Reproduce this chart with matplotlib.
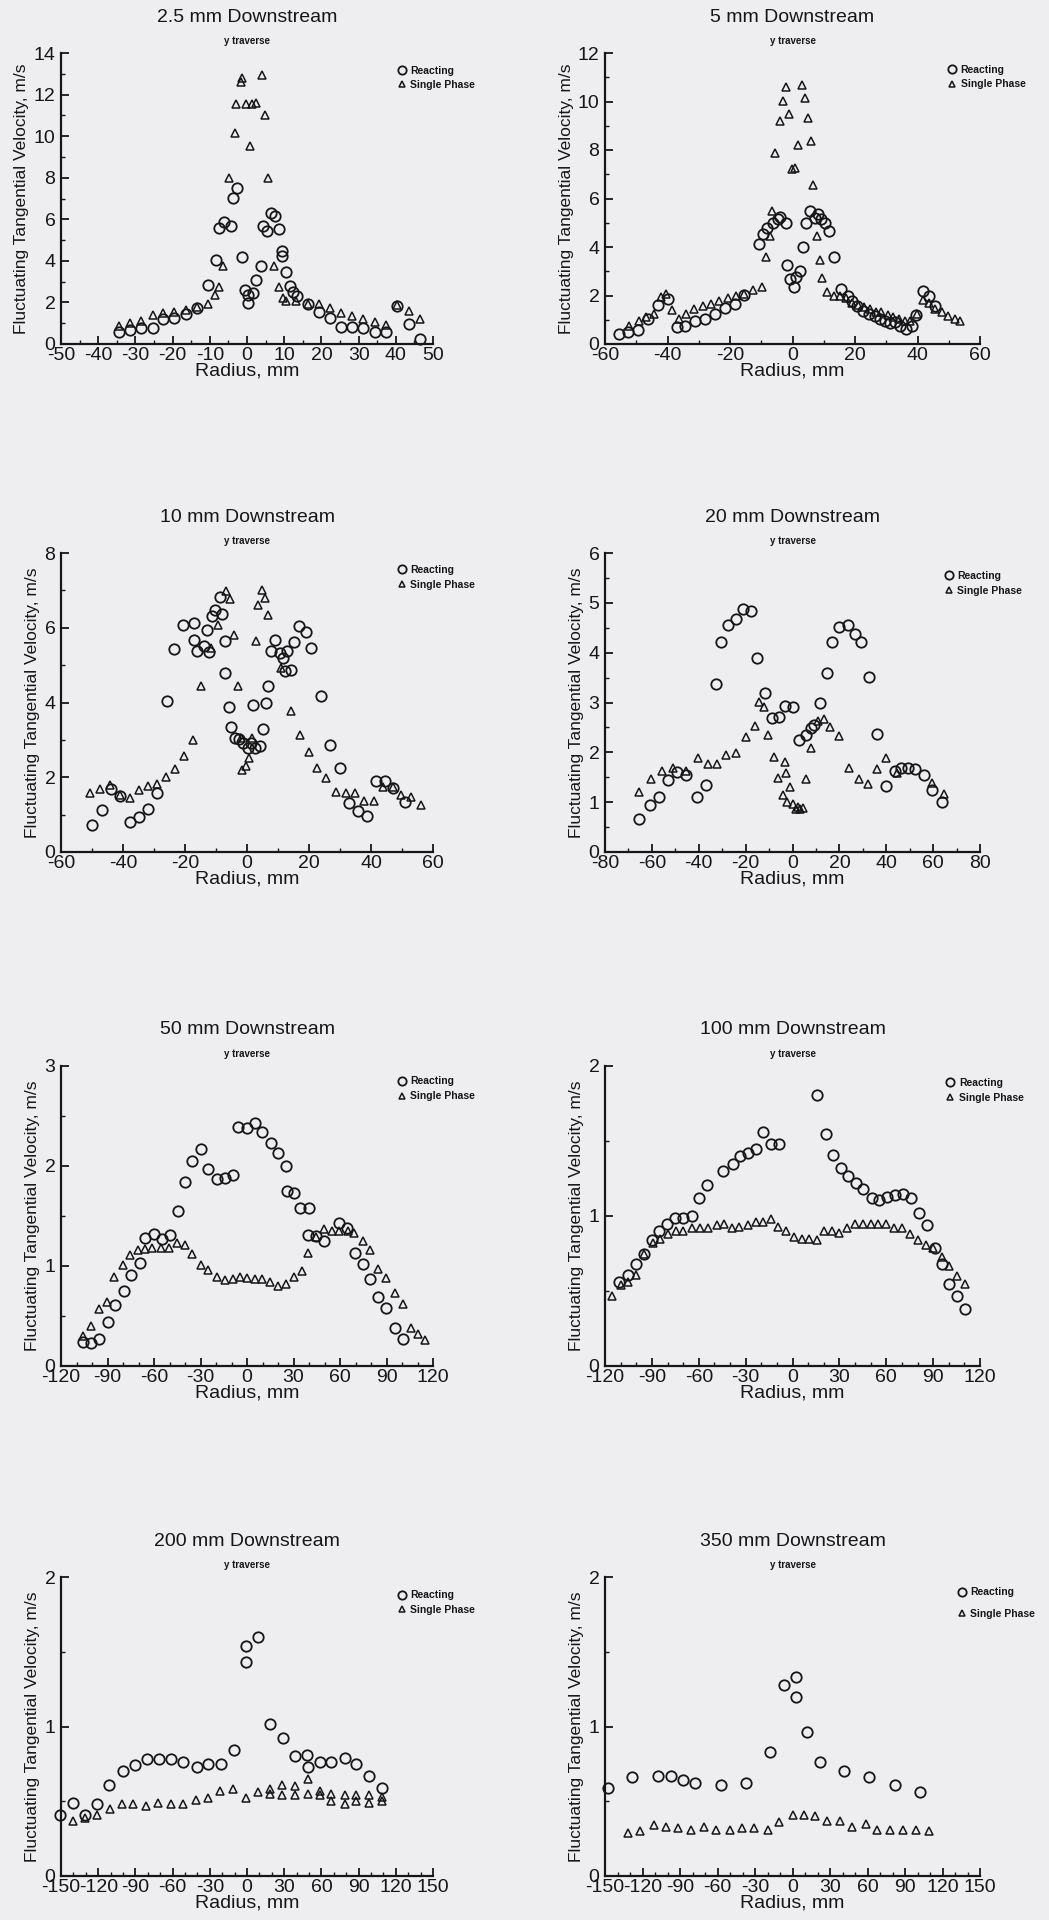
import matplotlib
matplotlib.use("Agg")
import matplotlib.pyplot as plt
from matplotlib.ticker import MultipleLocator

plt.rcParams['font.family'] = ['Liberation Sans', 'DejaVu Sans']
plt.rcParams['axes.unicode_minus'] = False

# ---------------- data ----------------
titles = ["2.5 mm Downstream", "5 mm Downstream", "10 mm Downstream", "20 mm Downstream",
          "50 mm Downstream", "100 mm Downstream", "200 mm Downstream", "350 mm Downstream"]

# 2.5 mm
r1_x = [-34.5, -31.4, -28.4, -25.3, -22.6, -19.5, -16.3, -13.5, -10.5, -8.3, -7.4, -6.3, -4.2, -3.8, -2.6,
        -1.3, -0.6, 0.3, 0.4, 1.6, 2.5, 3.7, 4.3, 5.5, 6.5, 7.4, 8.6, 9.5, 9.5, 10.4, 11.5, 12.4, 13.5,
        16.4, 19.3, 22.2, 25.2, 28.3, 31.2, 34.3, 37.3, 40.2, 43.6, 46.6]
r1_y = [0.56, 0.68, 0.76, 0.76, 1.19, 1.24, 1.45, 1.72, 2.85, 4.06, 5.59, 5.86, 5.67, 7.04, 7.52,
        4.17, 2.61, 2.37, 1.97, 2.45, 3.09, 3.77, 5.70, 5.43, 6.32, 6.15, 5.54, 4.46, 4.22, 3.45, 2.80, 2.48, 2.29,
        1.93, 1.56, 1.24, 0.80, 0.80, 0.76, 0.56, 0.56, 1.84, 0.97, 0.23]
s1_x = [-34.5, -31.4, -28.4, -25.3, -22.6, -19.5, -16.3, -13.5, -10.5, -8.7, -7.4, -6.5, -4.8, -3.3, -2.9,
        -1.5, -1.3, -0.4, 0.7, 1.4, 2.5, 3.9, 4.8, 5.7, 7.2, 8.6, 9.7, 10.6, 13.3, 16.4, 19.3, 22.2, 25.2,
        28.3, 31.2, 34.3, 37.3, 40.2, 43.6, 46.6]
s1_y = [0.87, 1.00, 1.13, 1.40, 1.48, 1.56, 1.64, 1.77, 1.93, 2.37, 2.74, 3.74, 8.00, 10.15, 11.55,
        12.6, 12.8, 11.55, 9.54, 11.55, 11.6, 12.92, 11.0, 7.97, 3.74, 2.74, 2.21, 2.05, 2.05, 1.93, 1.93, 1.72, 1.51,
        1.35, 1.19, 1.08, 0.92, 1.88, 1.61, 1.19]

# 5 mm
r2_x = [-55.5, -52.5, -49.6, -46.1, -42.9, -39.7, -37.1, -34.3, -31.2, -28.0, -24.7, -21.5, -18.4, -15.4,
        -10.8, -9.5, -8.2, -6.3, -4.7, -3.9, -2.2, -1.8, -0.7, 0.4, 1.2, 2.5, 3.5, 4.4, 5.5, 7.1, 8.1, 9.2,
        10.3, 11.7, 13.3, 15.6, 17.8, 19.1, 20.6, 22.6, 24.5, 26.3, 27.9, 29.5, 31.1, 32.7, 34.3, 36.3,
        38.1, 39.5, 41.8, 43.7, 45.6]
r2_y = [0.41, 0.51, 0.58, 1.03, 1.62, 1.85, 0.69, 0.75, 0.93, 1.03, 1.23, 1.48, 1.65, 2.03,
        4.12, 4.53, 4.80, 4.97, 5.14, 5.24, 4.97, 3.26, 2.67, 2.36, 2.77, 2.99, 3.98, 4.97, 5.49, 5.21, 5.35, 5.14,
        4.97, 4.66, 3.59, 2.26, 1.99, 1.78, 1.58, 1.37, 1.23, 1.17, 1.03, 0.93, 0.85, 0.89, 0.75, 0.62,
        0.75, 1.21, 2.19, 1.99, 1.58]
s2_x = [-52.3, -49.1, -47.0, -44.3, -42.1, -40.5, -38.6, -36.3, -34.1, -31.4, -28.8, -26.1, -23.4, -20.7,
        -18.1, -15.4, -12.7, -9.7, -8.4, -7.2, -6.5, -5.5, -3.9, -2.9, -2.2, -1.0, -0.2, 0.9, 1.9, 3.1, 4.1,
        5.0, 6.0, 6.7, 7.8, 8.7, 9.5, 11.1, 13.2, 15.1, 17.2, 19.1, 21.0, 22.8, 24.7, 26.6, 28.4, 30.4,
        32.2, 34.1, 35.9, 37.5, 39.7, 41.8, 43.7, 45.6, 47.7, 49.8, 52.0, 53.6]
s2_y = [0.75, 0.93, 1.10, 1.23, 1.95, 2.06, 1.40, 1.03, 1.23, 1.44, 1.58, 1.65, 1.78, 1.89,
        1.99, 2.08, 2.22, 2.33, 3.57, 4.46, 5.49, 7.89, 9.19, 10.04, 10.59, 9.47, 7.20, 7.27, 8.20, 10.67, 10.15,
        9.33, 8.37, 6.54, 4.46, 3.46, 2.74, 2.13, 1.99, 1.99, 1.89, 1.71, 1.62, 1.51, 1.44, 1.34, 1.30, 1.21,
        1.12, 1.03, 0.96, 0.93, 1.23, 1.81, 1.71, 1.44, 1.30, 1.17, 1.03, 0.96]

# 10 mm
r3_x = [-50.0, -46.8, -43.8, -41.1, -37.9, -35.0, -32.0, -29.0, -25.9, -23.4, -20.5, -17.1, -17.1, -16.0,
        -13.9, -12.8, -12.1, -11.3, -10.2, -8.0, -8.8, -7.2, -7.0, -5.9, -5.3, -4.0, -2.7, -1.3, 0.3, 1.2,
        2.0, 2.5, 4.1, 5.2, 6.0, 6.8, 7.9, 9.1, 10.5, 11.6, 12.4, 13.0, 14.1, 15.2, 16.8, 18.9, 20.6,
        23.8, 26.7, 29.9, 32.8, 35.8, 38.8, 41.5, 44.4, 47.1, 50.9]
r3_y = [0.73, 1.13, 1.69, 1.51, 0.80, 0.93, 1.16, 1.58, 4.03, 5.44, 6.08, 6.13, 5.68, 5.37,
        5.50, 5.95, 5.35, 6.31, 6.47, 6.38, 6.82, 5.64, 4.79, 3.88, 3.35, 3.05, 3.02, 2.92, 2.78, 2.92,
        3.92, 2.78, 2.83, 3.29, 3.99, 4.45, 5.37, 5.66, 5.33, 5.19, 4.85, 5.37, 4.87, 5.61, 6.04, 5.88, 5.46,
        4.18, 2.87, 2.25, 1.31, 1.09, 0.95, 1.89, 1.89, 1.71, 1.33]
s3_x = [-50.5, -47.3, -44.3, -41.1, -37.9, -35.0, -32.0, -29.0, -26.0, -23.1, -20.3, -17.4, -14.7, -11.5,
        -9.4, -6.7, -5.6, -4.3, -2.9, -2.0, -1.5, -0.4, 0.5, 1.6, 3.0, 3.6, 4.8, 5.9, 6.8, 11.1, 14.1, 17.0,
        19.9, 22.7, 25.6, 28.6, 31.8, 34.8, 37.8, 40.9, 43.9, 47.1, 49.8, 52.9, 56.1]
s3_y = [1.58, 1.69, 1.80, 1.53, 1.45, 1.67, 1.76, 1.83, 2.02, 2.22, 2.56, 2.99, 4.43, 5.46,
        6.08, 6.99, 6.77, 5.80, 4.43, 3.05, 2.20, 2.31, 2.52, 3.05, 5.64, 6.62, 7.02, 6.80, 6.35, 4.92, 3.76, 3.14,
        2.67, 2.25, 1.98, 1.60, 1.58, 1.58, 1.36, 1.36, 1.73, 1.73, 1.53, 1.47, 1.27]

# 20 mm
r4_x = [-65.5, -60.9, -57.0, -53.0, -49.1, -45.3, -40.9, -36.8, -32.8, -30.3, -27.4, -24.3, -21.0, -17.9,
        -15.1, -11.8, -8.7, -5.8, -3.0, 0.3, 2.7, 5.8, 8.1, 9.1, 11.6, 14.8, 16.9, 20.0, 23.7, 26.6, 29.4,
        32.8, 36.1, 39.9, 43.6, 46.4, 49.3, 52.4, 55.9, 59.5, 63.8]
r4_y = [0.67, 0.94, 1.11, 1.44, 1.61, 1.55, 1.11, 1.35, 3.38, 4.21, 4.56, 4.68, 4.87, 4.84,
        3.90, 3.20, 2.69, 2.71, 2.92, 2.90, 2.25, 2.35, 2.49, 2.55, 2.98, 3.59, 4.21, 4.52, 4.56, 4.37, 4.21,
        3.52, 2.36, 1.33, 1.62, 1.68, 1.68, 1.66, 1.54, 1.24, 1.01]
s4_x = [-65.5, -60.2, -55.8, -50.9, -45.6, -40.2, -36.1, -32.4, -28.3, -24.0, -19.7, -15.8, -14.1, -12.2,
        -10.4, -8.0, -6.1, -4.1, -3.3, -2.7, -2.3, -0.9, 0.1, 1.3, 2.4, 3.4, 4.4, 5.8, 8.1, 10.9, 13.4, 15.9,
        20.0, 24.0, 28.3, 32.2, 36.1, 39.9, 44.6, 59.5, 64.5]
s4_y = [1.21, 1.46, 1.62, 1.68, 1.62, 1.89, 1.76, 1.76, 1.94, 1.98, 2.31, 2.53, 3.02, 2.90,
        2.35, 1.91, 1.49, 1.14, 1.81, 1.58, 1.01, 1.31, 0.97, 0.87, 0.90, 0.87, 0.88, 1.46, 2.09, 2.63, 2.67, 2.51,
        2.33, 1.69, 1.47, 1.37, 1.66, 1.89, 1.58, 1.39, 1.17]

# 50 mm
r5_x = [-105.5, -100.8, -95.2, -90.0, -85.0, -79.6, -74.7, -69.3, -65.6, -59.8, -54.8, -49.9, -44.7, -39.7,
        -35.4, -30.0, -25.3, -19.6, -14.5, -9.1, -5.6, -0.2, 5.0, 9.9, 15.3, 20.1, 25.0, 25.7, 30.0, 34.3,
        40.1, 39.5, 44.5, 49.9, 59.6, 64.5, 69.7, 74.7, 79.6, 84.4, 89.8, 95.2, 100.6]
r5_y = [0.24, 0.23, 0.27, 0.44, 0.61, 0.75, 0.91, 1.03, 1.28, 1.32, 1.27, 1.31, 1.55, 1.84,
        2.05, 2.17, 1.97, 1.87, 1.88, 1.91, 2.39, 2.38, 2.43, 2.34, 2.23, 2.13, 2.00, 1.75, 1.73, 1.58,
        1.58, 1.31, 1.30, 1.25, 1.43, 1.38, 1.13, 1.02, 0.87, 0.69, 0.58, 0.38, 0.27]
s5_x = [-105.5, -100.8, -95.2, -90.4, -85.7, -80.1, -75.3, -70.4, -65.6, -61.3, -55.5, -50.5, -45.1, -39.7,
        -35.4, -30.0, -25.3, -19.6, -14.5, -9.1, -4.5, 0.2, 5.0, 9.9, 14.9, 20.1, 25.0, 30.0, 35.4, 39.5,
        44.5, 49.4, 54.6, 59.6, 65.0, 69.3, 74.7, 79.6, 84.4, 89.8, 95.2, 100.6, 105.5, 110.3, 115.0]
s5_y = [0.30, 0.40, 0.57, 0.64, 0.89, 1.01, 1.11, 1.16, 1.17, 1.18, 1.18, 1.18, 1.23, 1.21,
        1.12, 1.01, 0.96, 0.89, 0.86, 0.87, 0.89, 0.88, 0.87, 0.87, 0.84, 0.80, 0.82, 0.89, 0.95, 1.13,
        1.29, 1.37, 1.35, 1.35, 1.35, 1.33, 1.25, 1.16, 0.97, 0.88, 0.73, 0.62, 0.38, 0.32, 0.26]

# 100 mm
r6_x = [-110.8, -105.1, -100.4, -94.8, -90.1, -85.2, -80.5, -75.2, -69.9, -64.5, -59.6, -54.5, -44.3, -38.3,
        -33.6, -28.3, -23.4, -19.1, -14.0, -8.4, 15.9, 21.4, 25.7, 30.8, 35.7, 40.6, 45.3, 50.7, 55.6, 60.7,
        65.6, 70.5, 75.6, 81.2, 85.9, 91.2, 95.5, 100.4, 105.5, 110.4]
r6_y = [0.56, 0.61, 0.68, 0.75, 0.84, 0.90, 0.95, 0.99, 0.99, 1.00, 1.12, 1.21, 1.30, 1.35,
        1.40, 1.42, 1.45, 1.56, 1.48, 1.48, 1.81, 1.55, 1.41, 1.32, 1.27, 1.22, 1.18, 1.12, 1.11, 1.13,
        1.14, 1.15, 1.12, 1.02, 0.94, 0.79, 0.68, 0.55, 0.47, 0.38]
s6_x = [-115.3, -110.0, -105.1, -100.4, -95.0, -89.5, -84.8, -79.9, -74.6, -69.9, -64.5, -59.2, -53.9, -48.5,
        -43.8, -38.9, -34.0, -28.7, -23.6, -18.7, -13.8, -9.1, -4.2, 1.0, 5.9, 10.8, 15.5, 20.1, 25.5, 30.0,
        35.1, 40.0, 45.3, 50.0, 54.9, 59.8, 65.2, 69.9, 75.2, 80.5, 85.4, 90.1, 95.5, 100.4, 105.5, 110.4]
s6_y = [0.47, 0.54, 0.56, 0.61, 0.75, 0.82, 0.85, 0.88, 0.90, 0.90, 0.92, 0.92, 0.92, 0.94,
        0.95, 0.92, 0.93, 0.94, 0.96, 0.96, 0.98, 0.93, 0.90, 0.86, 0.85, 0.85, 0.84, 0.90, 0.90, 0.89,
        0.92, 0.95, 0.95, 0.95, 0.95, 0.95, 0.92, 0.92, 0.88, 0.84, 0.81, 0.79, 0.73, 0.67, 0.60, 0.55]

# 200 mm
r7_x = [-150.8, -140.6, -130.7, -121.3, -111.1, -100.3, -90.4, -81.0, -71.0, -61.4, -51.4, -40.7, -31.3, -21.1,
        -10.6, -0.9, -0.9, 9.0, 18.9, 29.1, 38.5, 48.5, 49.2, 58.6, 68.0, 78.8, 88.2, 98.4, 109.2]
r7_y = [0.41, 0.49, 0.41, 0.48, 0.61, 0.70, 0.74, 0.78, 0.78, 0.78, 0.76, 0.73, 0.75, 0.75,
        0.84, 1.43, 1.54, 1.60, 1.02, 0.92, 0.80, 0.81, 0.73, 0.76, 0.76, 0.79, 0.75, 0.67, 0.59]
s7_x = [-140.6, -130.7, -121.3, -110.5, -101.1, -91.7, -81.5, -71.6, -61.6, -51.9, -41.2, -31.3, -21.4, -11.2,
        -0.9, 9.0, 18.4, 18.9, 28.6, 28.6, 38.5, 38.5, 49.2, 49.2, 58.6, 58.6, 68.0, 68.0, 78.8, 78.8,
        88.2, 88.2, 98.4, 98.4, 109.2, 109.2]
s7_y = [0.37, 0.39, 0.41, 0.45, 0.48, 0.48, 0.47, 0.49, 0.48, 0.48, 0.51, 0.52, 0.57, 0.58,
        0.52, 0.56, 0.58, 0.55, 0.61, 0.54, 0.60, 0.54, 0.65, 0.55, 0.57, 0.54, 0.55, 0.50, 0.54, 0.48,
        0.54, 0.50, 0.54, 0.49, 0.53, 0.50]

# 350 mm
r8_x = [-147.9, -128.7, -108.0, -97.4, -87.6, -78.3, -57.6, -37.2, -17.8, -6.6, 2.7, 2.7, 11.9, 22.0,
        41.1, 61.1, 82.3, 101.7]
r8_y = [0.59, 0.66, 0.67, 0.67, 0.64, 0.62, 0.61, 0.62, 0.83, 1.28, 1.33, 1.20, 0.96, 0.76,
        0.70, 0.66, 0.61, 0.56]
s8_x = [-131.4, -122.1, -110.7, -101.4, -91.6, -81.0, -70.9, -61.1, -50.4, -40.4, -30.5, -19.9, -10.6, 0.0,
        8.8, 18.1, 27.9, 38.0, 47.8, 58.4, 67.7, 77.8, 88.4, 99.0, 108.8]
s8_y = [0.29, 0.30, 0.34, 0.33, 0.32, 0.31, 0.33, 0.31, 0.31, 0.32, 0.32, 0.31, 0.36, 0.41,
        0.41, 0.40, 0.37, 0.37, 0.33, 0.35, 0.31, 0.31, 0.31, 0.31, 0.30]

reacting = [(r1_x, r1_y), (r2_x, r2_y), (r3_x, r3_y), (r4_x, r4_y),
            (r5_x, r5_y), (r6_x, r6_y), (r7_x, r7_y), (r8_x, r8_y)]
single = [(s1_x, s1_y), (s2_x, s2_y), (s3_x, s3_y), (s4_x, s4_y),
          (s5_x, s5_y), (s6_x, s6_y), (s7_x, s7_y), (s8_x, s8_y)]

# axis settings: (xmin, xmax, xmajor, xminor, ymax, ymajor, yminor)
axis_cfg = [(-50, 50, 10, 5, 14, 2, 1),
            (-60, 60, 20, 10, 12, 2, 1),
            (-60, 60, 20, 10, 8, 2, 1),
            (-80, 80, 20, 10, 6, 1, 0.5),
            (-120, 120, 30, 10, 3, 1, 0.5),
            (-120, 120, 30, 10, 2, 1, 0.5),
            (-150, 150, 30, 10, 2, 1, 0.5),
            (-150, 150, 30, 10, 2, 1, 0.5)]

# ---------------- layout ----------------
W, H = 1049, 1920
fig = plt.figure(figsize=(W / 100, H / 100), dpi=100)
bg = '#eeeef1'
fig.patch.set_facecolor(bg)

col_x = [(61, 433), (605, 980)]
row_y = [(53, 344), (553, 852), (1066, 1366), (1577, 1876)]
leg_anchor = [(0.905, 0.955), (0.915, 0.96), (0.905, 0.96), (0.905, 0.94),
              (0.905, 0.965), (0.91, 0.96), (0.905, 0.955), (0.94, 0.965)]
leg_spacing = [0.35, 0.45, 0.45, 0.45, 0.45, 0.45, 0.45, 1.1]

ink = '#161616'

for i in range(8):
    r, c = divmod(i, 2)
    x0, x1 = col_x[c]
    yt, yb = row_y[r]
    ax = fig.add_axes([x0 / W, 1 - yb / H, (x1 - x0) / W, (yb - yt) / H])
    ax.set_facecolor(bg)
    xmin, xmax, xmaj, xmin_, ymax, ymaj, ymin_ = axis_cfg[i]
    rx, ry = reacting[i]
    sx, sy = single[i]
    ax.plot(rx, ry, linestyle='none', marker='o', markersize=7.5, markerfacecolor='none',
            markeredgecolor=ink, markeredgewidth=1.3, clip_on=False, label='Reacting')
    ax.plot(sx, sy, linestyle='none', marker='^', markersize=5.5, markerfacecolor='none',
            markeredgecolor=ink, markeredgewidth=1.1, clip_on=False, label='Single Phase')
    ax.set_xlim(xmin, xmax)
    ax.set_ylim(0, ymax)
    ax.xaxis.set_major_locator(MultipleLocator(xmaj))
    ax.xaxis.set_minor_locator(MultipleLocator(xmin_))
    ax.yaxis.set_major_locator(MultipleLocator(ymaj))
    ax.yaxis.set_minor_locator(MultipleLocator(ymin_))
    for s in ['top', 'right']:
        ax.spines[s].set_visible(False)
    for s in ['left', 'bottom']:
        ax.spines[s].set_linewidth(1.6)
        ax.spines[s].set_color(ink)
    ax.tick_params(axis='both', which='major', direction='in', length=6, width=1.3, colors=ink)
    ax.tick_params(axis='both', which='minor', direction='in', length=3, width=1.0, colors=ink)
    ax.tick_params(axis='x', which='major', labelsize=14, pad=2)
    ax.tick_params(axis='y', which='major', labelsize=14, pad=4)
    ax.set_xlabel('Radius, mm', fontsize=14, color=ink, labelpad=-1)
    ax.set_ylabel('Fluctuating Tangential Velocity, m/s', fontsize=12.5, color=ink, labelpad=3)
    ax.text(0.5, 1.0 + 36 / (yb - yt), titles[i], transform=ax.transAxes, ha='center', va='center',
            fontsize=14, color=ink)
    ax.text(0.5, 1.0 + 12 / (yb - yt), 'y traverse', transform=ax.transAxes, ha='center', va='center',
            fontsize=7, fontweight='bold', color=ink)
    leg = ax.legend(loc='upper left', bbox_to_anchor=leg_anchor[i], frameon=False,
                    prop={'size': 7.5, 'weight': 'bold'}, handlelength=0.8, handletextpad=0.4,
                    borderpad=0, borderaxespad=0, labelspacing=leg_spacing[i], markerscale=0.8)
    for t in leg.get_texts():
        t.set_color(ink)

fig.savefig('out.png', dpi=100, facecolor=fig.get_facecolor())
